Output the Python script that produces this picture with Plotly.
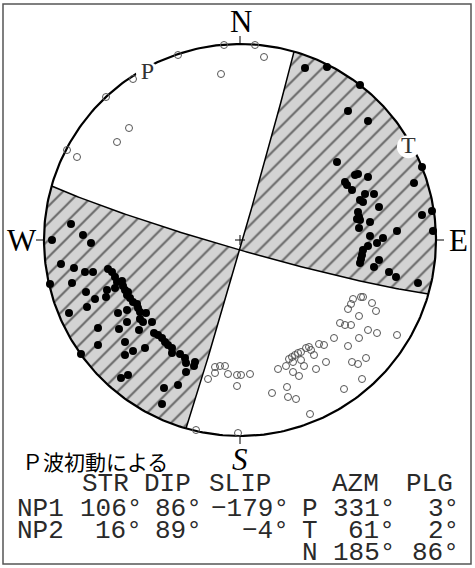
import numpy as np
import plotly.graph_objects as go

# ---------------- data ----------------
# nodal planes (strike, dip, slip)
NP1 = (106, 86, -179)
NP2 = (16, 89, -4)
# principal axes (azimuth, plunge)
P_AXIS = (331, 3)
T_AXIS = (61, 2)
N_AXIS = (185, 86)

R = 196.0  # radius of the projection circle in the units used below

# compressional first motions (push): east / north in projection units
push_east = [65, 87, 120, 108, 128, 97, 182, 174, 115, 118, 128, 105, 107, 112, 125, 134,
             120, 123, 139, 118, 119, 117, 120, 130, 182, 192, 193, 157, 119, 130, 143, 137,
             128, 123, 122, 121, 120, 139, 134, 149, 156, 178,
             -188, -169, -157, -149, -179, -166, -155, -147, -190, -168, -154, -145, -134, -133,
             -171, -153, -142, -159, -142, -132, -128, -125, -123, -118, -117, -115, -112, -113,
             -125, -110, -107, -103, -102, -100, -122, -113, -94, -100, -97, -88, -113, -121,
             -101, -86, -82, -78, -75, -72, -68, -68, -115, -115, -107, -95, -60, -55, -54, -45,
             -46, -54, -119, -112, -76, -62, -78]
push_north = [172, 173, 155, 129, 119, 78, 73, 57, 65, 66, 63, 58, 55, 50, 46, 46,
              40, 38, 33, 28, 23, 21, 20, 18, 25, 29, 9, 9, 12, 4, 2, -3,
              -6, -10, -15, -19, -23, -20, -27, -32, -37, -43,
              0, 16, 5, -3, -24, -28, -32, -32, -44, -43, -52, -59, -57, -50,
              -73, -67, -88, -114, -105, -29, -32, -37, -42, -41, -46, -50, -52, -55,
              -48, -58, -62, -64, -68, -72, -73, -70, -73, -79, -82, -82, -82, -89,
              -90, -93, -95, -98, -102, -105, -108, -113, -102, -115, -111, -108, -114, -118, -123, -122,
              -126, -132, -138, -135, -148, -145, -164]

# dilatational first motions (pull)
pull_east = [-16, 15, 24, -62, -19, -107, -134, -111, -123, -173, -163,
             -32, -25, -25, -20, -15, -12, -3, 1, 10, -3, 32, 47, 48, 56, 70, -2, -44,
             38, 46, 49, 52, 55, 58, 61, 66, 69, 53, 61, 53, 59, 64, 76, 71, 74, 79, 84,
             94, 100, 105, 111, 108, 119, 128, 137, 157, 119, 108, 111, 113, 121, 123, 132,
             136, 112, 118, 126, 122, 104, 86]
pull_north = [195, 195, 183, 185, 166, 161, 143, 112, 98, 90, 83,
              -139, -133, -127, -126, -126, -134, -135, -135, -134, -146, -153, -147, -157, -159, -174, -193, -190,
              -129, -126, -119, -117, -115, -113, -112, -108, -107, -122, -120, -132, -136, -126, -129, -110, -115, -104, -105,
              -98, -83, -85, -85, -106, -98, -90, -93, -95, -76, -69, -64, -59, -57, -57, -63,
              -71, -122, -124, -118, -139, -149, -122]

DIR_LABELS = ["N", "E", "S", "W"]
TABLE_HEAD = ["STR", "DIP", "SLIP", "AZM", "PLG"]
TITLE = "Ｐ波初動による"

# ---------------- geometry helpers ----------------
CX, CY = 240, 240  # pixel position of the circle centre (layout)


def at(px, py):
    return px - CX, CY - py


def plane_vectors(strike, dip):
    s, d = np.radians(strike), np.radians(dip)
    sv = np.array([np.cos(s), np.sin(s), 0.0])  # N, E, Down
    dv = np.array([-np.cos(d) * np.sin(s), np.cos(d) * np.cos(s), np.sin(d)])
    return sv, dv


def project(v):
    v = np.atleast_2d(v)
    k = np.sqrt(1.0 + v[:, 2])
    return R * v[:, 1] / k, R * v[:, 0] / k


def arc(strike, dip, l0, l1, n=200):
    sv, dv = plane_vectors(strike, dip)
    lam = np.linspace(l0, l1, n)
    v = np.outer(np.cos(lam), sv) + np.outer(np.sin(lam), dv)
    return project(v)


def rim(a0, a1, n=120):
    a = np.radians(np.linspace(a0, a1, n))
    return R * np.sin(a), R * np.cos(a)


def axis_xy(az, pl):
    t, p = np.radians(az), np.radians(pl)
    v = np.array([np.cos(p) * np.cos(t), np.cos(p) * np.sin(t), np.sin(p)])
    x, y = project(v)
    return float(x[0]), float(y[0])


sv1, dv1 = plane_vectors(NP1[0], NP1[1])
sv2, dv2 = plane_vectors(NP2[0], NP2[1])
u = np.cross(np.cross(sv1, dv1), np.cross(sv2, dv2))
if u[2] < 0:
    u = -u
u = u / np.linalg.norm(u)
lam1 = np.arctan2(u @ dv1, u @ sv1)
lam2 = np.arctan2(u @ dv2, u @ sv2)

fig = go.Figure()

hatch = dict(shape="/", bgcolor="#d3d3d3", fgcolor="black", size=12, solidity=0.17)

# compressional quadrant containing T (NE)
xa, ya = arc(NP2[0], NP2[1], lam2, 0)
xb, yb = rim(NP2[0], NP1[0])
xc, yc = arc(NP1[0], NP1[1], 0, lam1)
fig.add_trace(go.Scatter(x=np.concatenate([xa, xb, xc]), y=np.concatenate([ya, yb, yc]),
                         mode="lines", line=dict(width=0), fill="toself", fillpattern=hatch,
                         hoverinfo="skip", showlegend=False))
# opposite compressional quadrant (SW)
xa, ya = arc(NP2[0], NP2[1], lam2, np.pi)
xb, yb = rim(NP2[0] + 180, NP1[0] + 180)
xc, yc = arc(NP1[0], NP1[1], np.pi, lam1)
fig.add_trace(go.Scatter(x=np.concatenate([xa, xb, xc]), y=np.concatenate([ya, yb, yc]),
                         mode="lines", line=dict(width=0), fill="toself", fillpattern=hatch,
                         hoverinfo="skip", showlegend=False))

# nodal lines
for pl in (NP1, NP2):
    x, y = arc(pl[0], pl[1], 0, np.pi)
    fig.add_trace(go.Scatter(x=x, y=y, mode="lines", line=dict(color="black", width=1.5),
                             hoverinfo="skip", showlegend=False))

# primitive circle
x, y = rim(0, 360, 361)
fig.add_trace(go.Scatter(x=x, y=y, mode="lines", line=dict(color="black", width=2.2),
                         hoverinfo="skip", showlegend=False))

# ticks and centre cross
tx, ty = [], []
for a in (0, 90, 180, 270):
    ar = np.radians(a)
    tx += [R * np.sin(ar), (R + 8) * np.sin(ar), None]
    ty += [R * np.cos(ar), (R + 8) * np.cos(ar), None]
tx += [-5, 5, None, 0, 0]
ty += [0, 0, None, -5, 5]
fig.add_trace(go.Scatter(x=tx, y=ty, mode="lines", line=dict(color="black", width=1),
                         hoverinfo="skip", showlegend=False))

# observations
fig.add_trace(go.Scatter(x=np.array(pull_east), y=np.array(pull_north), mode="markers",
                         marker=dict(symbol="circle-open", size=7, color="#555555",
                                     line=dict(width=1, color="#555555")),
                         hoverinfo="skip", showlegend=False))
fig.add_trace(go.Scatter(x=np.array(push_east), y=np.array(push_north), mode="markers",
                         marker=dict(symbol="circle", size=8, color="black"),
                         hoverinfo="skip", showlegend=False))

# P and T axes labels
for lab, ax in (("P", P_AXIS), ("T", T_AXIS)):
    x, y = axis_xy(*ax)
    fig.add_trace(go.Scatter(x=[x], y=[y], mode="markers+text", text=[lab],
                             textposition="middle center",
                             textfont=dict(family="Liberation Serif", size=24, color="#333333"),
                             marker=dict(size=23, color="white", line=dict(width=0)),
                             hoverinfo="skip", showlegend=False))

annotations = []
# compass labels
for lab, (px, py), style in zip(DIR_LABELS, [(241, 21), (458, 240), (240, 459), (22, 240)],
                                ["normal", "normal", "italic", "normal"]):
    x, y = at(px, py)
    annotations.append(dict(x=x, y=y, text=lab, showarrow=False, xanchor="center", yanchor="middle",
                            font=dict(family="Liberation Serif", size=31, color="black", style=style)))

# title
x, y = at(20, 461)
annotations.append(dict(x=x, y=y, text=TITLE, showarrow=False, xanchor="left", yanchor="middle",
                        font=dict(family="Noto Sans CJK JP", size=21, color="black")))

mono = dict(family="Liberation Mono", size=26, color="#2a2a2a")
rows = [
    (484, [(TABLE_HEAD[0], 81, "left"), (TABLE_HEAD[1], 143, "left"), (TABLE_HEAD[2], 208, "left"),
           (TABLE_HEAD[3], 331, "left"), (TABLE_HEAD[4], 405, "left")]),
    (509, [("NP1", 16, "left"), (f"{NP1[0]}°", 143, "right"), (f"{NP1[1]}°", 203, "right"),
           (f"−{abs(NP1[2])}°", 290, "right"), ("P", 301, "left"), (f"{P_AXIS[0]}°", 396, "right"),
           (f"{P_AXIS[1]}°", 460, "right")]),
    (531, [("NP2", 16, "left"), (f"{NP2[0]}°", 143, "right"), (f"{NP2[1]}°", 203, "right"),
           (f"−{abs(NP2[2])}°", 290, "right"), ("T", 301, "left"), (f"{T_AXIS[0]}°", 396, "right"),
           (f"{T_AXIS[1]}°", 460, "right")]),
    (553, [("N", 301, "left"), (f"{N_AXIS[0]}°", 396, "right"), (f"{N_AXIS[1]}°", 460, "right")]),
]
for py, items in rows:
    for txt, px, anc in items:
        x, y = at(px, py)
        annotations.append(dict(x=x, y=y, text=txt, showarrow=False, xanchor=anc, yanchor="middle",
                                font=mono, borderpad=0))

# frame
fx0, fy0 = at(3, 4)
fx1, fy1 = at(471, 564)
shapes = [dict(type="rect", x0=fx0, y0=fy1, x1=fx1, y1=fy0, line=dict(color="#555555", width=1.5),
               layer="above")]

fig.update_layout(
    width=475, height=568, autosize=False,
    margin=dict(l=0, r=0, t=0, b=0),
    paper_bgcolor="white", plot_bgcolor="white",
    xaxis=dict(range=[-CX, 475 - CX], visible=False, fixedrange=True),
    yaxis=dict(range=[CY - 568, CY], visible=False, fixedrange=True),
    annotations=annotations, shapes=shapes,
)

fig.write_html("out.html", config=dict(displayModeBar=False),
               post_script="document.body.style.margin='0';document.body.style.overflow='hidden';")
